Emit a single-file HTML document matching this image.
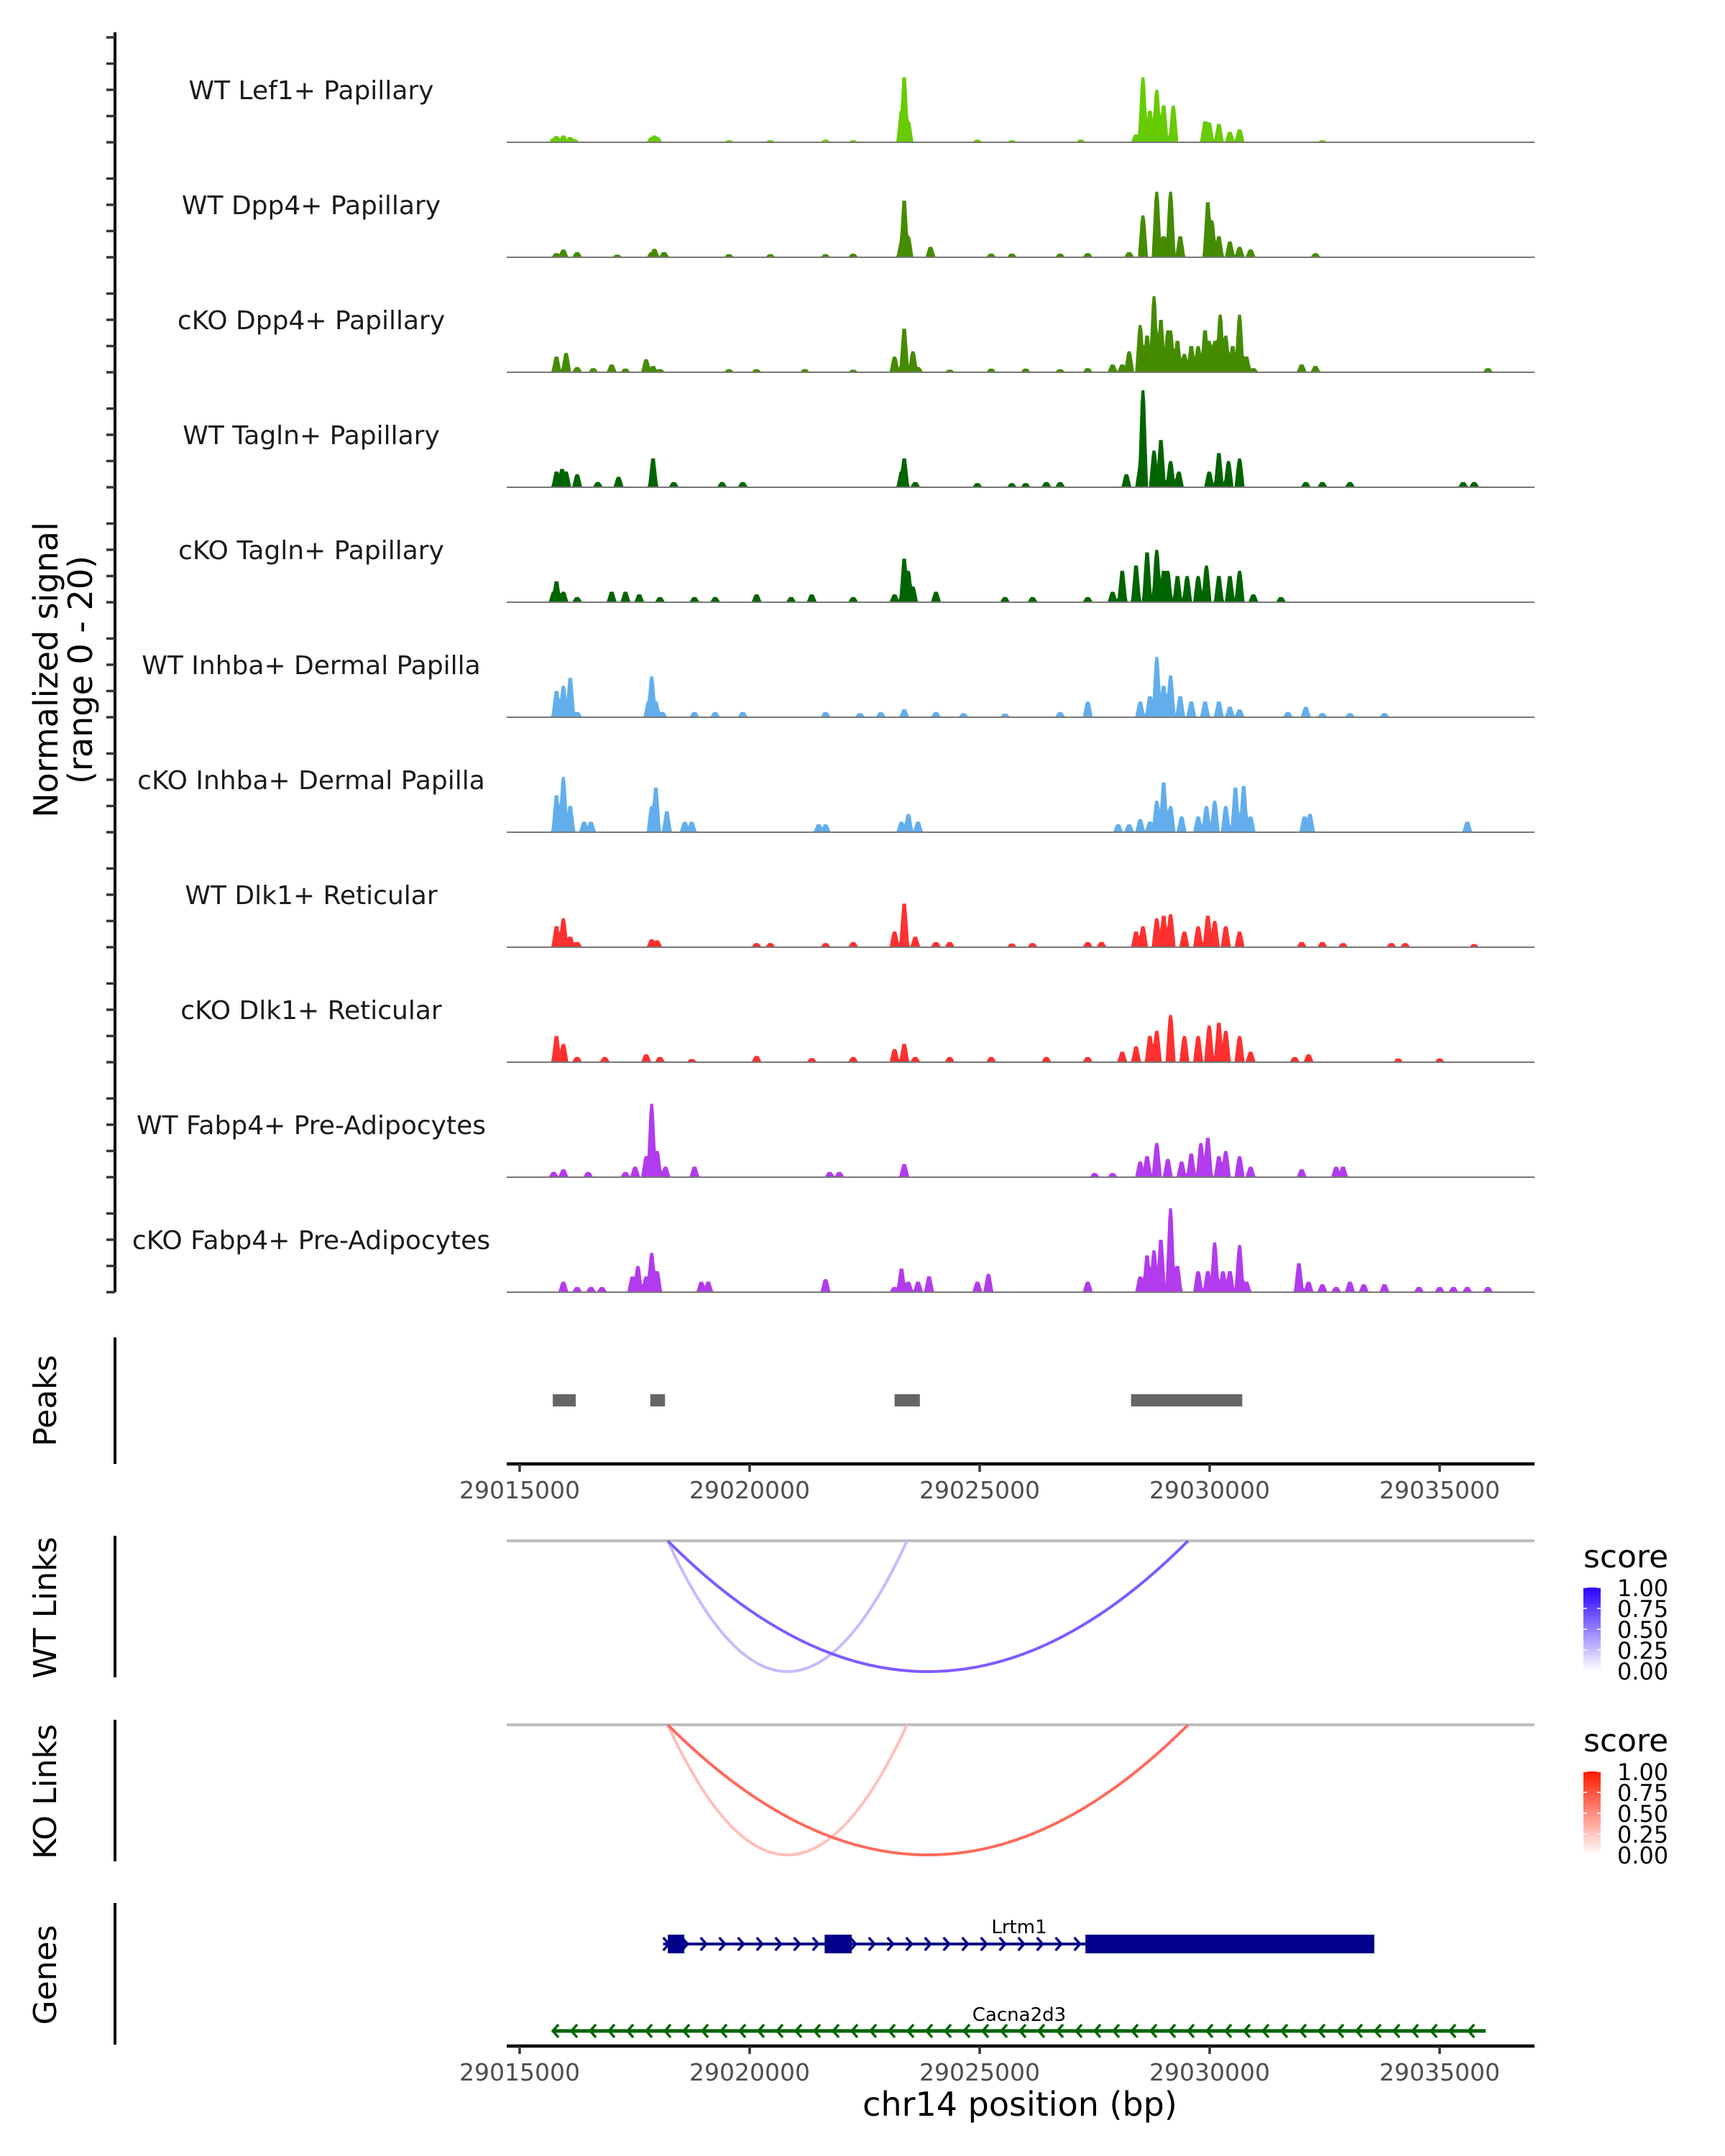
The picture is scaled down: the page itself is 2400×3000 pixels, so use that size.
<!DOCTYPE html>
<html><head><meta charset="utf-8"><style>
html,body{margin:0;padding:0;background:#fff;}
svg{display:block;font-family:"DejaVu Sans","Liberation Sans",sans-serif;}
</style></head><body>
<svg id="fig" width="2400" height="3000" viewBox="0 0 2400 3000" xmlns="http://www.w3.org/2000/svg">
<rect width="2400" height="3000" fill="#fff"/>
<g id="tracks"></g>
<text transform="translate(80,932) rotate(-90)" text-anchor="middle" font-size="46" fill="#000">Normalized signal</text>
<text transform="translate(128,932) rotate(-90)" text-anchor="middle" font-size="46" fill="#000">(range 0 - 20)</text>
<text transform="translate(78,1949) rotate(-90)" text-anchor="middle" font-size="44">Peaks</text>
<text transform="translate(78,2237) rotate(-90)" text-anchor="middle" font-size="44">WT Links</text>
<text transform="translate(78,2493) rotate(-90)" text-anchor="middle" font-size="44">KO Links</text>
<text transform="translate(78,2748) rotate(-90)" text-anchor="middle" font-size="44">Genes</text>
<g id="lower"></g>
<text x="1419" y="2944" text-anchor="middle" font-size="46" fill="#000">chr14 position (bp)</text>
</svg>
<script>
// genomic positions in kb offset from 29000000
const trackNames = ["WT Lef1+ Papillary","WT Dpp4+ Papillary","cKO Dpp4+ Papillary","WT Tagln+ Papillary","cKO Tagln+ Papillary","WT Inhba+ Dermal Papilla","cKO Inhba+ Dermal Papilla","WT Dlk1+ Reticular","cKO Dlk1+ Reticular","WT Fabp4+ Pre-Adipocytes","cKO Fabp4+ Pre-Adipocytes"];
const trackColors = ["#66CC00","#458B00","#458B00","#006400","#006400","#62AEEC","#62AEEC","#FF3030","#FF3030","#B23BEE","#B23BEE"];
const pos0 = [15.74,15.80,15.95,16.10,16.19,17.87,17.93,17.99,19.55,20.45,21.65,22.25,23.30,23.36,23.45,24.95,25.70,27.20,28.40,28.55,28.70,28.85,29.00,29.21,29.90,29.99,30.20,30.44,30.65,32.45];
const val0 = [0.8,1.2,1.3,1.0,0.6,1.0,1.3,1.0,0.4,0.4,0.5,0.4,6,12.4,4,0.5,0.4,0.5,1.5,12.4,6,10,7,7,4,3.8,3.5,2,2.5,0.4];
const pos1 = [15.80,15.95,16.25,17.12,17.87,17.93,18.14,19.55,20.45,21.65,22.25,23.30,23.36,23.45,23.93,25.25,25.70,26.75,27.35,28.25,28.55,28.85,29.00,29.15,29.36,29.96,30.05,30.20,30.44,30.65,30.89,32.30];
const val1 = [0.8,1.5,1.0,0.5,1.0,1.6,1.0,0.6,0.6,0.6,0.7,3,10.8,4,2,0.7,0.7,0.7,0.8,1.0,8,12.5,4,12.5,4,10.5,7,4,3,2,1.5,0.8];
const pos2 = [15.80,16.01,16.25,16.60,17.00,17.30,17.75,17.90,18.05,19.55,20.15,21.20,22.25,23.15,23.36,23.55,23.66,24.35,25.25,26.00,26.75,27.35,27.89,28.10,28.25,28.49,28.64,28.79,28.94,29.09,29.15,29.30,29.45,29.60,29.75,29.90,29.99,30.11,30.23,30.35,30.50,30.65,30.80,30.95,32.00,32.30,36.05];
const val2 = [3,3.7,1.0,0.8,1.5,0.7,2.5,1.2,0.6,0.6,0.6,0.6,0.5,3,8.3,4,1.0,0.5,0.7,0.7,0.6,0.8,1.5,1.5,4,9,7,14.5,10,8,8,6,3.5,5,5,8,6,6,11,7,5,11,3,0.8,1.5,1.2,0.8];
const pos3 = [15.80,15.92,16.01,16.25,16.70,17.15,17.90,18.35,19.40,19.85,23.30,23.36,23.60,24.95,25.70,26.00,26.45,26.75,28.19,28.49,28.55,28.79,28.94,29.15,29.33,29.99,30.20,30.41,30.65,32.09,32.45,33.05,35.51,35.75];
const val3 = [3,3.5,3,2.5,1.0,2,5.5,1.0,1.0,1.0,3,5.5,1.0,0.8,0.8,0.8,1.0,1.0,2.5,4,18.5,7,9,5,3,3,6.5,5,5.5,1,1,1,1,1];
const pos4 = [15.74,15.80,15.95,16.25,17.00,17.30,17.60,18.05,18.80,19.25,20.15,20.90,21.35,22.25,23.15,23.36,23.45,23.55,24.05,25.55,26.15,27.35,27.89,28.10,28.40,28.64,28.85,29.00,29.09,29.30,29.51,29.75,29.93,30.20,30.44,30.65,30.95,31.55];
const val4 = [2,4,2,1.0,2,2,1.5,1.0,1.0,1.0,1.5,1.0,1.5,1.0,1.5,8.3,6,3,2,1.0,1.0,1.0,2,6,7,9.5,10,6,6,5,5,5,7,5,5,6,1.5,1.0];
const pos5 = [15.80,15.95,16.10,16.25,17.80,17.87,17.96,18.10,18.80,19.25,19.85,21.65,22.40,22.85,23.36,24.05,24.65,25.55,26.75,27.35,28.49,28.70,28.85,29.00,29.15,29.36,29.60,29.90,30.20,30.44,30.65,31.70,32.09,32.45,33.05,33.80];
const val5 = [5,6,7.5,1.0,3,7.8,3,1.0,1.0,1.0,1.0,1.0,0.8,1.0,1.5,1.0,0.8,0.7,1.0,3,3,4,11.5,6,8,4,3,3,3,2,1.5,1.0,2,0.8,0.8,0.8];
const pos6 = [15.80,15.95,16.10,16.40,16.55,17.87,17.96,18.20,18.59,18.74,21.50,21.65,23.30,23.45,23.66,28.01,28.25,28.49,28.70,28.85,29.00,29.15,29.39,29.75,29.93,30.11,30.35,30.56,30.74,30.89,32.06,32.18,35.60];
const val6 = [7,10.5,5,2,2,5,8.5,4,2,2,1.5,1.5,2,3.5,2,1.5,1.5,2.5,2,6,9.5,5,3,3,5,6,5,8.5,8.8,3,3,3.5,2];
const pos7 = [15.80,15.95,16.10,16.25,17.87,17.99,20.15,20.45,21.65,22.25,23.15,23.36,23.60,24.05,24.35,25.70,26.15,27.35,27.65,28.40,28.55,28.85,29.00,29.15,29.45,29.75,29.96,30.11,30.35,30.65,32.00,32.45,32.90,33.95,34.25,35.75];
const val7 = [4,5.5,2,1.0,1.5,1.3,0.8,0.8,0.8,1.0,3,8.3,2,1.0,1.0,0.7,0.8,1.0,1.0,3,4,5.5,6,6.3,3,4,6,5,4,3,1.0,1.0,0.8,0.8,0.8,0.6];
const pos8 = [15.80,15.95,16.25,16.85,17.75,18.05,18.74,20.15,21.35,22.25,23.15,23.36,23.60,24.35,25.25,26.45,27.35,28.10,28.40,28.70,28.85,29.15,29.45,29.75,29.99,30.20,30.35,30.65,30.89,31.85,32.15,34.10,35.00];
const val8 = [5,3.5,1.0,1.0,1.5,1.0,0.6,1.2,0.8,1.0,2.5,3.5,1.0,1.0,1.0,1.0,1.0,2,3,5,6,9,5,5,7,7.5,6,5,2,1.0,1.5,0.7,0.7];
const pos9 = [15.74,15.95,16.49,17.30,17.51,17.75,17.87,17.99,18.17,18.80,21.74,21.95,23.36,27.50,27.89,28.49,28.64,28.85,29.09,29.39,29.60,29.81,29.96,30.20,30.35,30.65,30.89,32.00,32.75,32.90];
const val9 = [1.0,1.5,1.0,1.0,2,4,14,5,2,2,1.0,1.0,2.5,0.8,0.8,3,4,6.5,3.5,3,4.5,6.5,7.5,4,5,4,2,1.5,2,2];
const pos10 = [15.95,16.25,16.55,16.79,17.45,17.57,17.75,17.87,17.99,18.95,19.10,21.65,23.15,23.30,23.45,23.66,23.90,24.95,25.19,27.35,28.49,28.64,28.79,28.94,29.15,29.30,29.75,29.96,30.11,30.29,30.44,30.65,30.80,31.94,32.15,32.45,32.75,33.05,33.35,33.80,34.55,35.00,35.30,35.60,36.05];
const val10 = [2,1.0,1.0,1.0,3,5,3,7.5,4,2,2,2.5,1.0,4.5,2,2,3,2,3.5,2,3,7,8,10,16,5,4,4,9.5,4,4,9,2,5.5,2,1.5,1.0,2,1.5,1.5,1.0,1.0,1.0,1.0,1.0];
const trackPos = [pos0,pos1,pos2,pos3,pos4,pos5,pos6,pos7,pos8,pos9,pos10];
const trackVal = [val0,val1,val2,val3,val4,val5,val6,val7,val8,val9,val10];
const yTicks = [0,5,10,15,20];

const peakStart = [15.72,17.84,23.15,28.29];
const peakEnd = [16.22,18.16,23.70,30.71];
const xTicks = [15000,20000,25000,30000,35000];
const wtLinkStart = [18.22,18.22];
const wtLinkEnd = [23.42,29.53];
const wtLinkScore = [0.3,0.7];
const koLinkStart = [18.22,18.22];
const koLinkEnd = [23.42,29.53];
const koLinkScore = [0.3,0.7];
const legendTicks = ["1.00","0.75","0.50","0.25","0.00"];
const lrtm1Start = 18.12, lrtm1End = 33.58;
const lrtm1ExonStart = [18.22,21.63,27.30];
const lrtm1ExonEnd = [18.58,22.22,33.58];
const cacnaStart = 15.72, cacnaEnd = 36.00;

const NS = "http://www.w3.org/2000/svg";
function mk(tag, attrs, parent){const e=document.createElementNS(NS,tag);for(const k in attrs)e.setAttribute(k,attrs[k]);parent.appendChild(e);return e;}
function xScale(kb){return 723 + (kb*1000-15000)*0.064;}
const X0 = 705, X1 = 2135;
const PXU = 7.3;
function yScale(base,v){return base - Math.min(v,20)*PXU;}

const tg = document.getElementById('tracks');
let ax = mk('line',{x1:160,y1:45,x2:160,y2:1798,stroke:'#000','stroke-width':4},tg);



trackNames.forEach((name,i)=>{
  const base = 198 + 160*i;
  const g = mk('g',{},tg);
  
  
  yTicks.forEach((t,k)=>{
    if(k===4 && i>0) return;
    const y = base - t*PXU;
    const tk = mk('line',{x1:148,y1:y,x2:160,y2:y,stroke:'#333','stroke-width':3.5},g);
    
    
  });
  const lbl = mk('text',{x:433,y:base-60,'text-anchor':'middle','font-size':36,fill:'#1a1a1a'},g);
  lbl.textContent = name;
  
  
  const P = trackPos[i], V = trackVal[i], w = 0.11;
  let d = 'M'+xScale(15.5)+','+base;
  for(let kb=15.5; kb<=36.5; kb+=0.02){
    let v=0;
    for(let j=0;j<P.length;j++){const r=1-Math.abs(kb-P[j])/w; if(r>0) v=Math.max(v,V[j]*Math.min(1,r*1.6));}
    d += ' L'+xScale(kb).toFixed(1)+','+yScale(base,v).toFixed(1);
  }
  d += ' L'+xScale(36.5)+','+base+' Z';
  const area = mk('path',{d:d,fill:trackColors[i]},g);
  
  
  const bl = mk('line',{x1:X0,y1:base,x2:X1,y2:base,stroke:'#777','stroke-width':2},g);
  
  
});

const lg = document.getElementById('lower');
function vline(y1,y2,name){const l=mk('line',{x1:160,y1:y1,x2:160,y2:y2,stroke:'#000','stroke-width':4},lg);}
vline(1861,2037,'peaks-axis-line');
vline(2137,2334,'wt-links-axis-line');
vline(2393,2590,'ko-links-axis-line');
vline(2648,2845,'genes-axis-line');

peakStart.forEach((s,i)=>{
  const r = mk('rect',{x:xScale(s),y:1940,width:xScale(peakEnd[i])-xScale(s),height:17,fill:'#666'},lg);
  
  
});

function xAxis(y,name){
  const g = mk('g',{},lg);
  
  
  mk('line',{x1:X0,y1:y,x2:X1,y2:y,stroke:'#000','stroke-width':4.5},g);
  xTicks.forEach(t=>{
    const x = xScale(t/1000);
    mk('line',{x1:x,y1:y,x2:x,y2:y+11,stroke:'#333','stroke-width':3.5},g);
    const tx = mk('text',{x:x,y:y+48,'text-anchor':'middle','font-size':33,fill:'#4d4d4d'},g);
    tx.textContent = String(29000000+t);
    
    
  });
}
xAxis(2037,'peaks-x-axis');
xAxis(2847,'genes-x-axis');

function lerp(a,b,t){return Math.round(a+(b-a)*t);}
function links(y0,depth,S,E,SC,hi,name){
  const g = mk('g',{},lg);
  
  
  mk('line',{x1:X0,y1:y0,x2:X1,y2:y0,stroke:'#bebebe','stroke-width':4},g);
  S.forEach((s,i)=>{
    const x1=xScale(s), x2=xScale(E[i]), c=y0+depth*2, xm=(x1+x2)/2;
    const t=SC[i];
    const col='rgb('+lerp(255,hi[0],t)+','+lerp(255,hi[1],t)+','+lerp(255,hi[2],t)+')';
    const p = mk('path',{d:'M'+x1+','+y0+' Q'+xm+','+c+' '+x2+','+y0,fill:'none',stroke:col,'stroke-width':4},g);
    
    
  });
}
links(2144,182,wtLinkStart,wtLinkEnd,wtLinkScore,[70,20,255],'wt-links-panel');
links(2400,181,koLinkStart,koLinkEnd,koLinkScore,[255,40,20],'ko-links-panel');

function legend(ytitle,top,hi,name){
  const g = mk('g',{},lg);
  
  
  const t = mk('text',{x:2203,y:ytitle,'font-size':44,fill:'#000'},g); t.textContent='score';
  const gid = name+'-grad';
  const defs = mk('defs',{},g);
  const gr = mk('linearGradient',{id:gid,x1:0,y1:0,x2:0,y2:1},defs);
  mk('stop',{offset:0,'stop-color':hi},gr);
  mk('stop',{offset:1,'stop-color':'#fff'},gr);
  mk('rect',{x:2203,y:top,width:24,height:116,fill:'url(#'+gid+')'},g);
  legendTicks.forEach((lb,k)=>{
    const y = top + k*29;
    mk('line',{x1:2203,y1:y,x2:2208,y2:y,stroke:'#fff','stroke-width':1.5},g);
    mk('line',{x1:2222,y1:y,x2:2227,y2:y,stroke:'#fff','stroke-width':1.5},g);
    const tx = mk('text',{x:2250,y:y+12,'font-size':32,fill:'#000'},g); tx.textContent=lb;
  });
}
legend(2181,2209,'#2a00ff','wt-score-legend');
legend(2437,2465,'#ff1a00','ko-score-legend');

const gg = mk('g',{},lg);


mk('line',{x1:xScale(lrtm1Start),y1:2705,x2:xScale(lrtm1End),y2:2705,stroke:'#00008B','stroke-width':4},gg);
for(let x=xScale(lrtm1Start)+4; x<xScale(lrtm1End)-10; x+=26){
  mk('polyline',{points:(x-4)+',2696 '+(x+4)+',2705 '+(x-4)+',2714',fill:'none',stroke:'#00008B','stroke-width':3.5},gg);
}
lrtm1ExonStart.forEach((s,i)=>{
  mk('rect',{x:xScale(s),y:2692,width:xScale(lrtm1ExonEnd[i])-xScale(s),height:26,fill:'#00008B'},gg);
});
const l1 = mk('text',{x:1418,y:2690,'text-anchor':'middle','font-size':26,fill:'#000'},gg); l1.textContent='Lrtm1';

const cg = mk('g',{},lg);


mk('line',{x1:xScale(cacnaStart),y1:2826,x2:xScale(cacnaEnd),y2:2826,stroke:'#006400','stroke-width':5},cg);
for(let x=xScale(cacnaStart)+4; x<xScale(cacnaEnd)-4; x+=26){
  mk('polyline',{points:(x+4)+',2817 '+(x-4)+',2826 '+(x+4)+',2835',fill:'none',stroke:'#006400','stroke-width':3.5},cg);
}
const l2 = mk('text',{x:1418,y:2812,'text-anchor':'middle','font-size':26,fill:'#000'},cg); l2.textContent='Cacna2d3';
</script>
</body></html>
